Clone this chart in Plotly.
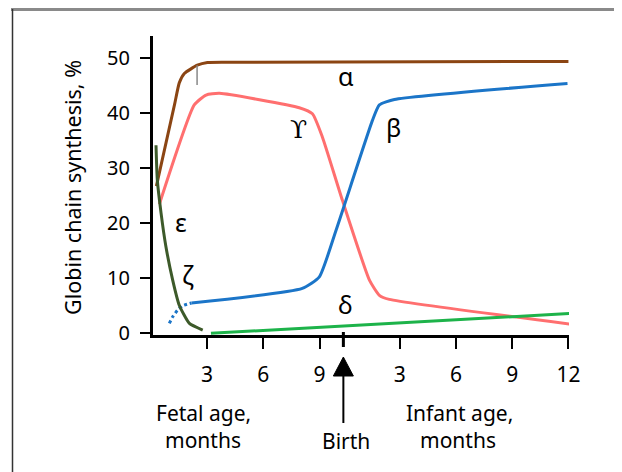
import plotly.graph_objects as go

# ---- data (x: months relative to birth; negative = fetal period) ----
BIRTH_FETAL_MONTH = 10.27

alpha_x = [-9.97, -9.0, -8.75, -8.48, -7.79, -7.25, -6.0, 12.0]
alpha_y = [26.7, 41.5, 45.4, 47.1, 48.6, 49.1, 49.15, 49.3]

gamma_x = [-9.81, -7.95, -7.32, -6.61, -2.35, -1.65, -1.12, -0.05, 1.39, 1.92, 2.45, 12.05]
gamma_y = [23.4, 41.4, 43.2, 43.5, 40.9, 39.8, 35.6, 24.1, 9.65, 6.9, 6.15, 1.7]

beta_early_x = [-9.28, -9.10, -8.84, -8.57, -8.21, -8.1]
beta_early_y = [1.8, 3.0, 4.2, 5.0, 5.4, 5.5]
beta_x = [-8.1, -2.19, -1.28, -0.39, 1.55, 1.92, 2.72, 11.95]
beta_y = [5.5, 8.15, 10.25, 18.7, 38.6, 41.4, 42.4, 45.3]

zeta_x = [-9.99, -9.92, -9.72, -9.46, -9.1, -8.75, -8.21, -7.5]
zeta_y = [34.1, 27.8, 21.8, 15.7, 9.65, 5.1, 1.8, 0.6]

delta_x = [-7.06, 12.05]
delta_y = [0.0, 3.6]

fetal_ticks = [3, 6, 9]
infant_ticks = [3, 6, 9, 12]
y_ticks = [0, 10, 20, 30, 40, 50]

# ---- layout geometry (page pixels; the page body adds an 8px offset) ----
OFF = 8
W, H = 614, 464
PL, PR, PT, PB = 153, 569, 36, 335   # plot area in page pixels
ML, MT = PL - OFF, PT - OFF
MR = W - (PR - OFF)
MB = H - (PB - OFF)
XR = [-10.15, 12.03]
YR = [-0.3, 53.9]
FONT = "Noto Sans"


def px(x):
    return (x - PL) / (PR - PL)


def py(y):
    return (PB - y) / (PB - PT)


def xd(v):
    return (v - XR[0]) / (XR[1] - XR[0])


tickvals = [m - BIRTH_FETAL_MONTH for m in fetal_ticks] + infant_ticks
ticktext = [str(m) for m in fetal_ticks] + [str(m) for m in infant_ticks]

fig = go.Figure()
spline = dict(shape="spline", smoothing=0.5)
fig.add_trace(go.Scatter(x=alpha_x, y=alpha_y, mode="lines",
                         line=dict(color="#8B4513", width=3, **spline)))
fig.add_trace(go.Scatter(x=gamma_x, y=gamma_y, mode="lines",
                         line=dict(color="#FF6F6F", width=3, **spline)))
fig.add_trace(go.Scatter(x=beta_early_x, y=beta_early_y, mode="lines",
                         line=dict(color="#1B75C8", width=3, dash="dot", **spline)))
fig.add_trace(go.Scatter(x=beta_x, y=beta_y, mode="lines",
                         line=dict(color="#1B75C8", width=3, **spline)))
fig.add_trace(go.Scatter(x=zeta_x, y=zeta_y, mode="lines",
                         line=dict(color="#3D5A2A", width=3, **spline)))
fig.add_trace(go.Scatter(x=delta_x, y=delta_y, mode="lines",
                         line=dict(color="#1DB34A", width=3)))

shapes = []
# small gray marker on alpha
shapes.append(dict(type="line", xref="x", yref="y", x0=-7.8, x1=-7.8, y0=45.0, y1=48.6,
                   line=dict(color="#888888", width=1.5)))
# birth tick
bx = xd(0)
shapes.append(dict(type="line", xref="paper", yref="paper", x0=bx, x1=bx,
                   y0=py(332), y1=py(347), line=dict(color="black", width=3)))
# birth arrow
bpx = PL + bx * (PR - PL)
shapes.append(dict(type="path", xref="paper", yref="paper",
                   path=f"M {px(bpx-10)},{py(376)} L {px(bpx+10)},{py(376)} L {px(bpx)},{py(357)} Z",
                   fillcolor="black", line=dict(color="black", width=1)))
shapes.append(dict(type="line", xref="paper", yref="paper", x0=bx, x1=bx,
                   y0=py(375), y1=py(423), line=dict(color="black", width=2)))
# frame
shapes.append(dict(type="line", xref="paper", yref="paper", x0=px(11), x1=px(640),
                   y0=py(9.5), y1=py(9.5), line=dict(color="#8a8a8a", width=3)))
shapes.append(dict(type="line", xref="paper", yref="paper", x0=px(12.5), x1=px(12.5),
                   y0=py(9), y1=py(480), line=dict(color="#333333", width=1.5)))


def lab(text, x, y, size=21, family=FONT, angle=0):
    return dict(text=text, xref="paper", yref="paper", x=px(x), y=py(y),
                xanchor="center", yanchor="middle", showarrow=False, textangle=angle,
                font=dict(family=family, size=size, color="black"))


annotations = [
    lab("α", 346, 76, 25),
    lab("ϒ", 298, 129, 25, "DejaVu Serif"),
    lab("β", 393, 127, 25),
    lab("δ", 345, 304, 25),
    lab("ε", 181, 222, 25),
    lab("ζ", 188, 274, 25),
    lab("Fetal age,", 203, 413),
    lab("months", 203, 440),
    lab("Birth", 346, 441),
    lab("Infant age,", 459, 413),
    lab("months", 458, 440),
    lab("Globin chain synthesis, %", 72, 188, 21.5, angle=-90),
]

fig.update_layout(
    width=W, height=H,
    margin=dict(l=ML, r=MR, t=MT, b=MB),
    paper_bgcolor="white", plot_bgcolor="white",
    showlegend=False,
    shapes=shapes, annotations=annotations,
    font=dict(family=FONT, size=20, color="black"),
    xaxis=dict(range=XR, tickvals=tickvals, ticktext=ticktext, showgrid=False,
               zeroline=False, showline=True, linecolor="black", linewidth=3,
               ticks="outside", ticklen=11, tickwidth=2, tickcolor="black",
               ticklabelstandoff=8, tickfont=dict(family=FONT, size=21)),
    yaxis=dict(range=YR, tickvals=y_ticks, showgrid=False, zeroline=False,
               showline=True, linecolor="black", linewidth=3,
               ticks="outside", ticklen=10, tickwidth=2, tickcolor="black",
               ticklabelstandoff=6, tickfont=dict(family=FONT, size=20)),
)

fig.write_html("out.html")
